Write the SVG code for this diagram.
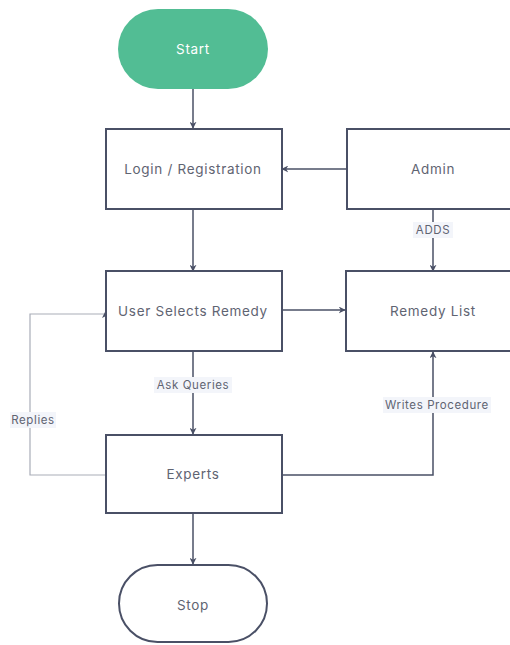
<svg xmlns="http://www.w3.org/2000/svg" width="510" height="645" viewBox="0 0 510 645">
<defs>
<style>
.box{fill:#fff;stroke:#4a5066;stroke-width:2}
.lbl{font-family:Inter,"Liberation Sans",sans-serif;font-size:13.5px;letter-spacing:0.7px;fill:#5f6472;text-anchor:middle;dominant-baseline:central}
.el{font-family:Inter,"Liberation Sans",sans-serif;font-size:11.5px;letter-spacing:0.6px;fill:#5f6472;text-anchor:middle;dominant-baseline:central}
.eb{fill:#f3f5fa}
.ln{fill:none;stroke:#4a5066;stroke-width:1.5}
.lt{fill:none;stroke:#a9adb8;stroke-width:1.2}
</style>
<marker id="ah" viewBox="0 0 10 10" refX="9" refY="5" markerWidth="7" markerHeight="7" orient="auto" markerUnits="userSpaceOnUse">
<path d="M0,0 L10,5 L0,10 L3,5 Z" fill="#4a5066"/>
</marker>
</defs>
<rect width="510" height="645" fill="#fff"/>
<g id="connectors">
<path class="ln" d="M193,89 V128" marker-end="url(#ah)"/>
<path class="ln" d="M347,169 H282" marker-end="url(#ah)"/>
<path class="ln" d="M193,209 V271" marker-end="url(#ah)"/>
<path class="ln" d="M433,209 V271" marker-end="url(#ah)"/>
<path class="ln" d="M282,310 H345" marker-end="url(#ah)"/>
<path class="ln" d="M193,351 V434" marker-end="url(#ah)"/>
<path class="ln" d="M282,475 H433 V352" marker-end="url(#ah)"/>
<path class="lt" d="M106,475 H30 V314 H106"/>
<path d="M102,318 L106,310 L110,318 L106,316 Z" fill="#4a5066"/>
<path class="ln" d="M193,513 V564" marker-end="url(#ah)"/>
<rect class="eb" x="413" y="222" width="40" height="16"/>
<text class="el" x="433" y="230">ADDS</text>
<rect class="eb" x="154" y="377" width="78" height="16"/>
<text class="el" x="193" y="385">Ask Queries</text>
<rect class="eb" x="10" y="412" width="46" height="16"/>
<text class="el" x="33" y="420">Replies</text>
<rect class="eb" x="383" y="397" width="108" height="16"/>
<text class="el" x="437" y="405">Writes Procedure</text>
</g>
<g id="start">
<rect x="118" y="9" width="150" height="80" rx="40" fill="#52bd94"/>
<text class="lbl" x="193" y="49" style="fill:#fff">Start</text>
</g>
<g id="login">
<rect class="box" x="106" y="129" width="176" height="80"/>
<text class="lbl" x="193" y="169">Login / Registration</text>
</g>
<g id="admin">
<rect class="box" x="347" y="129" width="176" height="80"/>
<text class="lbl" x="433" y="169">Admin</text>
</g>
<g id="user-selects">
<rect class="box" x="106" y="271" width="176" height="80"/>
<text class="lbl" x="193" y="311">User Selects Remedy</text>
</g>
<g id="remedy-list">
<rect class="box" x="346" y="271" width="176" height="80"/>
<text class="lbl" x="433" y="311">Remedy List</text>
</g>
<g id="experts">
<rect class="box" x="106" y="435" width="176" height="78"/>
<text class="lbl" x="193" y="474">Experts</text>
</g>
<g id="stop">
<rect class="box" x="119" y="565" width="148" height="77" rx="38.5"/>
<text class="lbl" x="193" y="605">Stop</text>
</g>
</svg>
